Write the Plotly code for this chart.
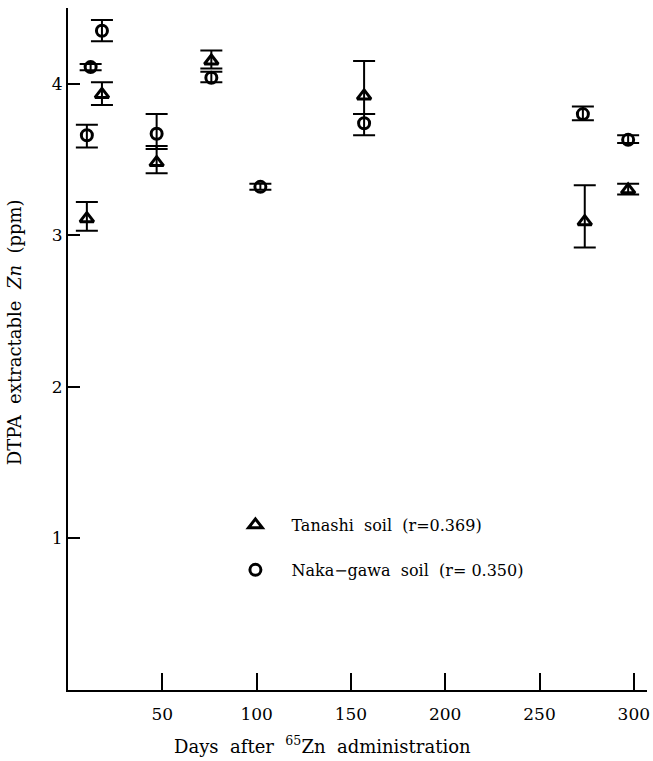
import plotly.graph_objects as go

# Tanashi soil: days, DTPA-extractable Zn (ppm), upper / lower error
tanashi_days = [10, 18, 47, 76, 157, 274, 297]
tanashi_zn = [3.11, 3.93, 3.48, 4.15, 3.92, 3.09, 3.30]
tanashi_err_hi = [0.11, 0.08, 0.11, 0.07, 0.23, 0.24, 0.04]
tanashi_err_lo = [0.08, 0.07, 0.07, 0.05, 0.12, 0.17, 0.03]

# Naka-gawa soil
nakagawa_days = [10, 12, 18, 47, 76, 102, 157, 273, 297]
nakagawa_zn = [3.66, 4.11, 4.35, 3.67, 4.04, 3.32, 3.74, 3.80, 3.63]
nakagawa_err_hi = [0.07, 0.02, 0.07, 0.13, 0.04, 0.02, 0.06, 0.05, 0.03]
nakagawa_err_lo = [0.08, 0.02, 0.07, 0.10, 0.03, 0.02, 0.08, 0.04, 0.02]

x_ticks = [50, 100, 150, 200, 250, 300]
y_ticks = [1, 2, 3, 4]

SERIF = "DejaVu Serif, Liberation Serif, serif"
SP = "\u00a0\u00a0"  # wide word spacing

fig = go.Figure()

fig.add_trace(go.Scatter(
    x=tanashi_days, y=tanashi_zn, mode="markers",
    name=f"Tanashi{SP}soil{SP}(r=0.369)",
    marker=dict(symbol="triangle-up-open", size=12, color="black",
                line=dict(width=3, color="black")),
    error_y=dict(type="data", symmetric=False, array=tanashi_err_hi,
                 arrayminus=tanashi_err_lo, color="black", thickness=2, width=11),
    legend="legend",
))

fig.add_trace(go.Scatter(
    x=nakagawa_days, y=nakagawa_zn, mode="markers",
    name=f"Naka−gawa{SP}soil{SP}(r=\u00a00.350)",
    marker=dict(symbol="circle-open", size=11, color="black",
                line=dict(width=3, color="black")),
    error_y=dict(type="data", symmetric=False, array=nakagawa_err_hi,
                 arrayminus=nakagawa_err_lo, color="black", thickness=2, width=11),
    legend="legend2",
))

axis_common = dict(
    showgrid=False, zeroline=False, showline=True, linecolor="black",
    linewidth=2, ticks="inside", tickcolor="black", tickwidth=1.5,
    tickfont=dict(family=SERIF, size=17, color="black"),
)

legend_common = dict(
    xanchor="left", yanchor="middle", bgcolor="rgba(0,0,0,0)",
    itemwidth=62, font=dict(family=SERIF, size=16, color="black"),
)

fig.update_layout(
    width=653, height=761,
    margin=dict(l=68, r=3, t=8, b=71),
    plot_bgcolor="white", paper_bgcolor="white",
    showlegend=True,
    xaxis=dict(range=[0, 307], tickvals=x_ticks, ticklen=17,
               ticklabelstandoff=8, **axis_common),
    yaxis=dict(range=[0, 4.5], tickvals=y_ticks, ticklen=12, **axis_common),
    legend=dict(x=0.2615, y=0.242, **legend_common),
    legend2=dict(x=0.2615, y=0.176, **legend_common),
    annotations=[
        dict(text=f"Days{SP}after{SP}<sup>65</sup>Zn{SP}administration",
             xref="paper", yref="paper", x=0.44, y=-0.081,
             xanchor="center", yanchor="middle", showarrow=False,
             font=dict(family=SERIF, size=18, color="black")),
        dict(text=f"DTPA{SP}extractable{SP}<i>Zn</i>{SP}(ppm)",
             xref="paper", yref="paper", x=-0.091, y=0.525,
             xanchor="center", yanchor="middle", textangle=-90,
             showarrow=False,
             font=dict(family=SERIF, size=18, color="black")),
    ],
)

fig.write_html("out.html")
